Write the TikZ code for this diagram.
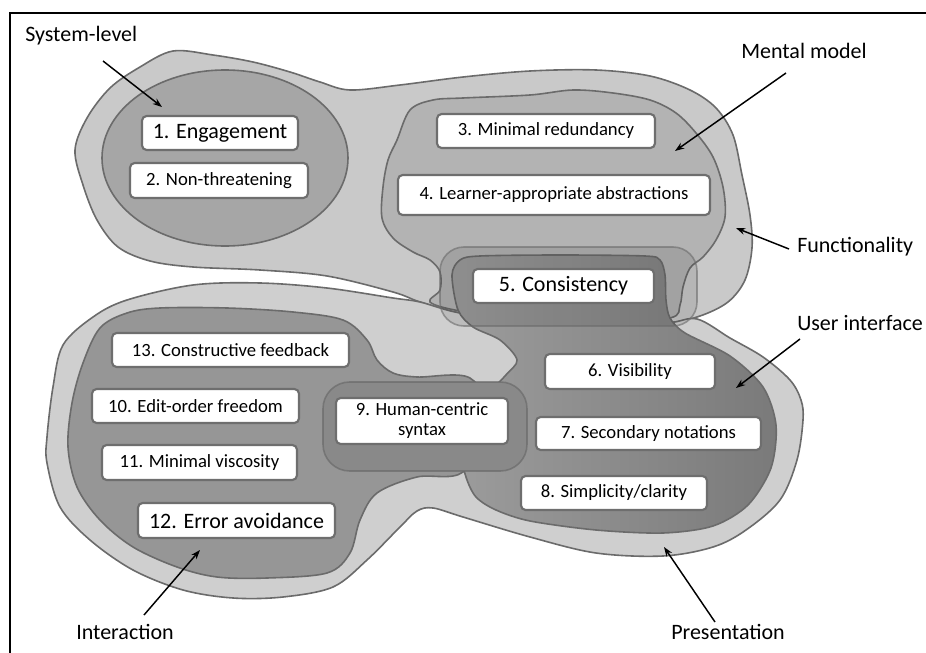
\documentclass[tikz,border=0pt]{standalone}
\usepackage{fontspec}
\setmainfont{Carlito}
\usetikzlibrary{arrows.meta}
\definecolor{fg}{HTML}{C9C9C9}
\definecolor{pg}{HTML}{CFCFCF}
\definecolor{eg}{HTML}{A6A6A6}
\definecolor{mg}{HTML}{B3B3B3}
\definecolor{ig}{HTML}{969696}
\definecolor{uiL}{HTML}{9C9C9C}
\definecolor{uiR}{HTML}{7A7A7A}
\definecolor{ng}{HTML}{898989}
\definecolor{edge}{HTML}{6B6B6B}
\definecolor{boxedge}{HTML}{6E6E6E}
\begin{document}
\begin{tikzpicture}[x=0.75pt,y=-0.75pt,
  blob/.style={draw=edge,line width=1.2pt},
  lbl/.style={draw=boxedge,fill=white,line width=1.6pt,rounded corners=3.5pt,inner sep=0pt,align=center,font=\fontsize{14}{15}\selectfont},
  big/.style={font=\fontsize{16.5}{18}\selectfont},
  outer/.style={inner sep=0pt,font=\fontsize{16.5}{18}\selectfont,anchor=base west},
  pointer/.style={-{Stealth[length=7pt,width=5pt]},line width=1.1pt}]
\useasboundingbox (0,0) rectangle (926,653);
\draw[line width=1.5pt] (10,653) -- (10,13) -- (926,13);

% Functionality
\filldraw[blob,fill=fg] plot[smooth cycle,tension=0.55] coordinates {
 (75,150) (87,118) (110,88) (140,67) (173,51) (213,55) (253,62) (290,72) (320,82) (350,90)
 (400,85) (463,77) (530,71) (596,70) (650,76) (690,90) (716,108) (733,135) (742,175)
 (750,215) (752,248) (745,280) (728,302) (700,316) (667,323) (600,326) (530,322) (460,313)
 (420,302) (393,292) (327,276) (260,270) (193,267) (150,261) (118,247) (97,220) (83,185)};
% Presentation
\filldraw[blob,fill=pg] plot[smooth cycle,tension=0.55] coordinates {
 (420,302) (460,313) (530,322) (600,325) (667,323) (697,319) (730,338) (763,357) (790,380)
 (801,400) (803,420) (797,460) (780,500) (746,530) (713,547) (663,556) (596,553) (530,537)
 (463,517) (433,508) (417,511) (400,527) (367,560) (333,587) (283,597) (233,598) (183,590)
 (133,570) (90,540) (60,507) (47,463) (47,437) (53,387) (63,345) (93,317) (127,300)
 (193,285) (260,283) (327,288) (393,298)};
% System-level
\filldraw[blob,fill=eg] (225,158) ellipse [x radius=92.25pt, y radius=66pt];
% Mental model
\filldraw[blob,fill=mg] plot[smooth cycle,tension=0.55] coordinates {
 (410,110) (433,100) (463,98) (530,95) (573,90) (613,93) (650,100) (676,113) (696,133)
 (713,157) (723,187) (725,217) (716,240) (703,257) (690,268) (683,287) (680,305) (670,318)
 (600,324) (530,320) (460,311) (430,302) (440,290) (440,272) (430,260) (413,252) (393,238)
 (382,218) (383,187) (388,160) (397,140)};
% Interaction
\filldraw[blob,fill=ig] plot[smooth cycle,tension=0.55] coordinates {
 (100,328) (127,313) (160,308) (227,308) (293,312) (343,320) (367,340) (377,360) (393,373)
 (417,377) (470,378) (490,420) (463,472) (417,477) (377,493) (360,520) (350,553) (327,573)
 (267,578) (217,577) (177,567) (133,547) (100,520) (77,487) (68,447) (72,403) (83,363)};
% User interface
\draw[blob,left color=uiL,right color=uiR] plot[smooth cycle,tension=0.5] coordinates {
 (452,275) (460,260) (480,256) (560,255) (645,256) (660,260) (665,275) (666,300) (670,318)
 (685,333) (730,356) (763,387) (776,425) (771,468) (748,505) (713,526) (663,533) (596,530)
 (530,521) (496,510) (476,497) (466,477) (463,455) (475,410) (505,376) (517,360) (500,340)
 (473,327) (458,310)};
% Consistency overlay
\filldraw[draw=edge,draw opacity=0.6,line width=1.2pt,fill=black,fill opacity=0.09,rounded corners=18pt]
 (440,247) rectangle (697,326);
% Human-centric syntax region
\filldraw[draw=edge,draw opacity=0.7,line width=1.2pt,fill=ng,rounded corners=20pt]
 (323,382) rectangle (527,471);

% Boxes
\node[lbl,big,minimum width=117pt,minimum height=25.5pt] (n1) at (220,133) {1. Engagement};
\node[lbl,minimum width=133.5pt,minimum height=26.25pt] (n2) at (219,180.5) {2. Non-threatening};
\node[lbl,minimum width=163.5pt,minimum height=25.5pt] (n3) at (546,131) {3. Minimal redundancy};
\node[lbl,minimum width=234pt,minimum height=30pt] (n4) at (554,195) {4. Learner-appropriate abstractions};
\node[lbl,big,minimum width=135.75pt,minimum height=25.5pt] (n5) at (563.5,286) {5. Consistency};
\node[lbl,minimum width=127.5pt,minimum height=26.25pt] (n6) at (630,371.5) {6. Visibility};
\node[lbl,minimum width=168.75pt,minimum height=24.75pt] (n7) at (648.5,433.5) {7. Secondary notations};
\node[lbl,minimum width=139.5pt,minimum height=25.5pt] (n8) at (614,493) {8. Simplicity/clarity};
\node[lbl,minimum width=129pt,minimum height=34.5pt] (n9) at (422,421) {9. Human-centric\\syntax};
\node[lbl,minimum width=177.75pt,minimum height=25.5pt] (n13) at (230.5,350) {13. Constructive feedback};
\node[lbl,minimum width=155.25pt,minimum height=25.5pt] (n10) at (195.5,406) {10. Edit-order freedom};
\node[lbl,minimum width=146.25pt,minimum height=26.25pt] (n11) at (199.5,462.5) {11. Minimal viscosity};
\node[lbl,big,minimum width=147.75pt,minimum height=26.25pt] (n12) at (236.5,520.5) {12. Error avoidance};

% Outside labels
\node[outer] (lsys) at (25,41) {System-level};
\node[outer] (lmen) at (741,58) {Mental model};
\node[outer] (lfun) at (797,252) {Functionality};
\node[outer] (lui) at (797,330) {User interface};
\node[outer] (lpre) at (671,639) {Presentation};
\node[outer] (lint) at (76,639) {Interaction};

% Arrows
\coordinate (sysT) at (103,61);  \coordinate (sysH) at (162,107);
\coordinate (menT) at (786,73);  \coordinate (menH) at (675,151);
\coordinate (funT) at (789,249); \coordinate (funH) at (736,228);
\coordinate (uiT) at (800,339);  \coordinate (uiH) at (736,388);
\coordinate (preT) at (715,622); \coordinate (preH) at (664,547);
\coordinate (intT) at (144,615); \coordinate (intH) at (200,550);
\draw[pointer] (sysT) -- (sysH);
\draw[pointer] (menT) -- (menH);
\draw[pointer] (funT) -- (funH);
\draw[pointer] (uiT) -- (uiH);
\draw[pointer] (preT) -- (preH);
\draw[pointer] (intT) -- (intH);
\end{tikzpicture}
\end{document}
